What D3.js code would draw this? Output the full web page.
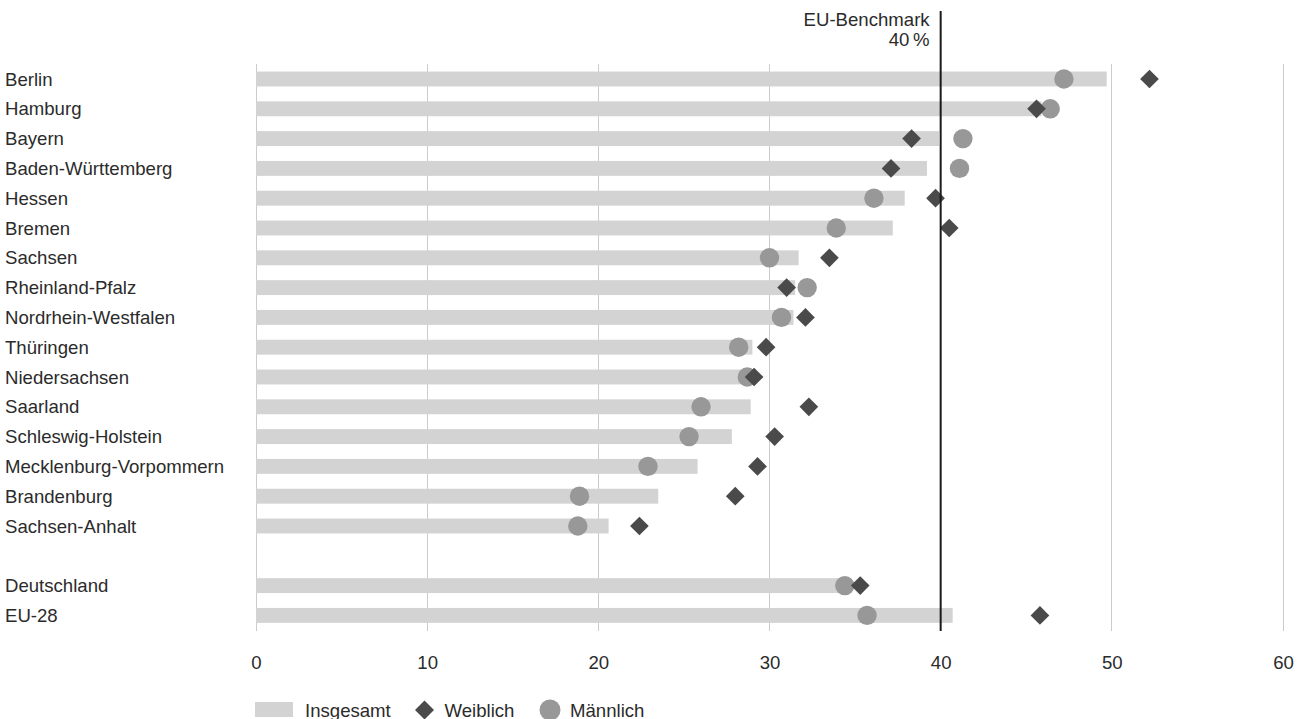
<!DOCTYPE html>
<html>
<head>
<meta charset="utf-8">
<script src="https://cdn.jsdelivr.net/npm/d3@7"></script>
<style>
  html, body { margin: 0; padding: 0; background: #fff; }
  svg { display: block; font-family: "Liberation Sans", Arial, sans-serif; }
</style>
</head>
<body>
<svg id="chart" width="1308" height="719"></svg>
<script>
const categories = ["Berlin","Hamburg","Bayern","Baden-Württemberg","Hessen","Bremen","Sachsen","Rheinland-Pfalz","Nordrhein-Westfalen","Thüringen","Niedersachsen","Saarland","Schleswig-Holstein","Mecklenburg-Vorpommern","Brandenburg","Sachsen-Anhalt","","Deutschland","EU-28"];
const insgesamt = [49.7,45.9,39.9,39.2,37.9,37.2,31.7,31.5,31.4,29.0,28.9,28.9,27.8,25.8,23.5,20.6,null,34.6,40.7];
const weiblich  = [52.2,45.6,38.3,37.1,39.7,40.5,33.5,31.0,32.1,29.8,29.1,32.3,30.3,29.3,28.0,22.4,null,35.3,45.8];
const maennlich = [47.2,46.4,41.3,41.1,36.1,33.9,30.0,32.2,30.7,28.2,28.7,26.0,25.3,22.9,18.9,18.8,null,34.4,35.7];
const tickValues = [0,10,20,30,40,50,60];
const benchmark = 40;
const benchmarkLabel = ["EU-Benchmark","40\u2009%"];
const legendLabels = ["Insgesamt","Weiblich","Männlich"];

const colBar = "#d3d3d3", colW = "#4a4a4a", colM = "#989898", colGrid = "#cccccc", colText = "#2b2b2b";
const fs = "18.6px";

const svg = d3.select("#chart");
const x = d3.scaleLinear().domain([0,60]).range([256,1283]);
const rows = categories.map((c,i)=>i);
const y = d3.scaleBand().domain(rows).range([64.1,630.3]).paddingInner(0.5).paddingOuter(0.25);
const yc = i => y(i) + y.bandwidth()/2;

// gridlines
svg.append("g").selectAll("line").data(tickValues).join("line")
  .attr("x1", d=>x(d)).attr("x2", d=>x(d))
  .attr("y1", 64).attr("y2", 631)
  .attr("stroke", colGrid).attr("stroke-width", 1)
  .attr("shape-rendering","crispEdges");

// tick labels via axis
const axis = d3.axisBottom(x).tickValues(tickValues).tickSize(0).tickPadding(0);
const gAxis = svg.append("g").attr("transform","translate(0,655)").call(axis);
gAxis.select(".domain").remove();
gAxis.selectAll("text").attr("font-size",fs).attr("fill",colText)
  .attr("font-family","Liberation Sans, Arial, sans-serif").attr("dy","0.75em");

// bars
const idx = rows.filter(i => insgesamt[i] !== null);
svg.append("g").selectAll("rect").data(idx).join("rect")
  .attr("x", x(0)).attr("y", i=>y(i))
  .attr("width", i=>x(insgesamt[i])-x(0)).attr("height", y.bandwidth())
  .attr("fill", colBar);

// male circles
svg.append("g").selectAll("circle").data(idx).join("circle")
  .attr("cx", i=>x(maennlich[i])).attr("cy", i=>yc(i)).attr("r", 9.7)
  .attr("fill", colM);

// female diamonds
const diamond = d3.symbol().type(d3.symbolSquare).size(175);
svg.append("g").selectAll("path").data(idx).join("path")
  .attr("d", diamond)
  .attr("transform", i=>`translate(${x(weiblich[i])},${yc(i)}) rotate(45)`)
  .attr("fill", colW);

// benchmark line
svg.append("line").attr("x1", x(benchmark)).attr("x2", x(benchmark))
  .attr("y1", 11).attr("y2", 631).attr("stroke", "#1a1a1a").attr("stroke-width", 2);
svg.append("text").attr("x", x(benchmark)-11).attr("y", 26).attr("text-anchor","end")
  .attr("font-size",fs).attr("fill",colText).text(benchmarkLabel[0]);
svg.append("text").attr("x", x(benchmark)-11).attr("y", 46).attr("text-anchor","end")
  .attr("font-size",fs).attr("fill",colText).text(benchmarkLabel[1]);

// category labels
svg.append("g").selectAll("text").data(rows.filter(i=>categories[i]!=="")).join("text")
  .attr("x", 5).attr("y", i=>yc(i)+6.6)
  .attr("font-size",fs).attr("fill",colText)
  .text(i=>categories[i]);

// legend
const lg = svg.append("g");
lg.append("rect").attr("x",255).attr("y",702).attr("width",38).attr("height",15).attr("fill",colBar);
lg.append("text").attr("x",305).attr("y",716.5).attr("font-size",fs).attr("fill",colText).text(legendLabels[0]);
lg.append("path").attr("d", d3.symbol().type(d3.symbolSquare).size(180))
  .attr("transform","translate(424.5,710) rotate(45)").attr("fill",colW);
lg.append("text").attr("x",444.5).attr("y",716.5).attr("font-size",fs).attr("fill",colText).text(legendLabels[1]);
lg.append("circle").attr("cx",550).attr("cy",710).attr("r",10.5).attr("fill",colM);
lg.append("text").attr("x",570).attr("y",716.5).attr("font-size",fs).attr("fill",colText).text(legendLabels[2]);
</script>
</body>
</html>
